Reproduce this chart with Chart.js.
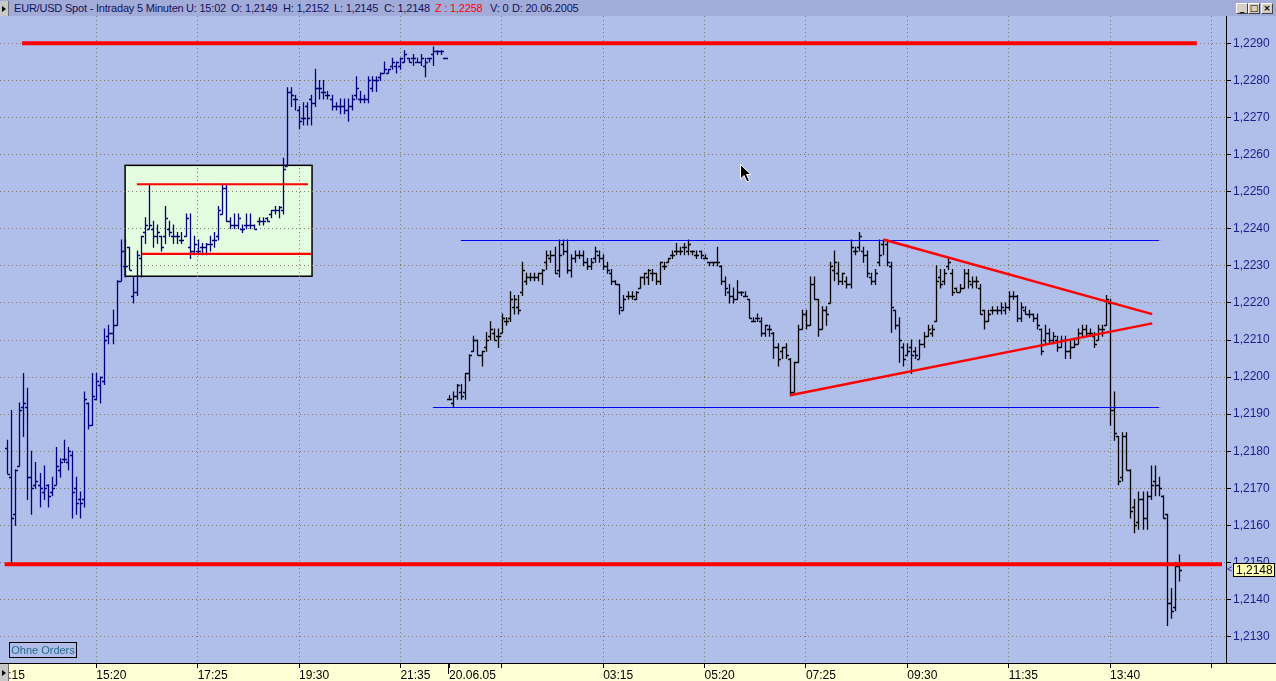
<!DOCTYPE html>
<html>
<head>
<meta charset="utf-8">
<title>EUR/USD Spot - Intraday 5 Minuten</title>
<script src="https://cdn.jsdelivr.net/npm/chart.js@4.4.0/dist/chart.umd.min.js"></script>
<style>
  html, body { margin: 0; padding: 0; background: #B0BEEA; overflow: hidden; }
  #wrap { position: relative; width: 1276px; height: 681px; }
  #chart { position: absolute; left: 0; top: 0; }
  #head { position: absolute; left: 0; top: 0; width: 1276px; height: 16px; background: #A2ACD9;
          font: 11px "Liberation Sans", Arial, sans-serif; color: #12125C; letter-spacing: -0.2px; }
  #head span { position: absolute; top: 2px; white-space: nowrap; }
  .btn { position: absolute; width: 8px; background: #C8C8C8; border-right: 1px solid #707070; }
  .btn:after { content: ""; position: absolute; left: 2px; top: 50%; margin-top: -3px;
               border-left: 4px solid #000; border-top: 3px solid transparent; border-bottom: 3px solid transparent; }
  .win { position: absolute; top: 3px; width: 10px; height: 9px; background: #D4D0C8;
         border: 1px solid; border-color: #fff #404040 #404040 #fff;
         font: bold 9px "DejaVu Sans", sans-serif; line-height: 9px; text-align: center; color: #000; }
  #orders { position: absolute; left: 9px; top: 642px; width: 66px; height: 14px; border: 1px solid #000;
            font: 11px "Liberation Sans", Arial, sans-serif; color: #2A6A8C; line-height: 14px; text-align: center; }
  #cursor { position: absolute; left: 740px; top: 164px; }
</style>
</head>
<body>
<div id="wrap">
  <canvas id="chart" width="1276" height="681"></canvas>
  <div id="head">
    <span style="left:14px">EUR/USD Spot - Intraday 5 Minuten</span>
    <span style="left:186px">U: 15:02</span>
    <span style="left:231px">O: 1,2149</span>
    <span style="left:283px">H: 1,2152</span>
    <span style="left:334px">L: 1,2145</span>
    <span style="left:384px">C: 1,2148</span>
    <span style="left:435px;color:#FF0000">Z : 1,2258</span>
    <span style="left:490px">V: 0</span>
    <span style="left:512px">D: 20.06.2005</span>
  </div>
  <div class="btn" style="left:0;top:1px;height:15px"></div>
  <div class="btn" style="left:0;top:664px;height:17px"></div>
  <div class="win" style="left:1236px">_</div>
  <div class="win" style="left:1248px">&#9633;</div>
  <div class="win" style="left:1261px">&#215;</div>
  <div id="orders">Ohne Orders</div>
  <svg id="cursor" width="14" height="20"><polygon points="0.5,0.5 0.5,15 4,11.5 7,18 9.5,17 6.5,10.5 11,10.5" fill="#000" stroke="#fff" stroke-width="1"/></svg>
</div>
<script>
// Freitag 17.06.2005, 5-Minuten-Bars ab 13:30 (Slot 0 .. 108)
var fridayOpen = [
  1.2181,1.2173,1.2163,1.2176,1.2192,1.2192,1.2173,1.2171,1.2171,1.2169,
  1.2171,1.2169,1.2171,1.2175,1.2178,1.2177,1.2179,1.2170,1.2167,1.2167,
  1.2193,1.2187,1.2194,1.2198,1.2199,1.2211,1.2212,1.2214,1.2226,1.2230,
  1.2235,1.2222,1.2223,1.2232,1.2239,1.2240,1.2240,1.2238,1.2238,1.2238,
  1.2240,1.2238,1.2238,1.2237,1.2238,1.2235,1.2234,1.2234,1.2235,1.2235,
  1.2236,1.2237,1.2238,1.2244,1.2251,1.2242,1.2241,1.2241,1.2240,1.2241,
  1.2241,1.2241,1.2242,1.2242,1.2243,1.2244,1.2245,1.2245,1.2245,1.2257,
  1.2277,1.2275,1.2272,1.2270,1.2273,1.2275,1.2274,1.2278,1.2277,1.2276,
  1.2275,1.2273,1.2273,1.2273,1.2272,1.2273,1.2276,1.2275,1.2275,1.2275,
  1.2278,1.2280,1.2281,1.2282,1.2282,1.2284,1.2284,1.2284,1.2285,1.2286,
  1.2286,1.2285,1.2285,1.2284,1.2286,1.2287,1.2288,1.2288,1.2286
];
var fridayHigh = [
  1.2183,1.2191,1.2175,1.2193,1.2201,1.2197,1.2180,1.2177,1.2174,1.2176,
  1.2171,1.2173,1.2181,1.2178,1.2183,1.2181,1.2180,1.2173,1.2169,1.2196,
  1.2193,1.2201,1.2201,1.2200,1.2213,1.2214,1.2218,1.2226,1.2237,1.2237,
  1.2235,1.2227,1.2234,1.2238,1.2243,1.2252,1.2242,1.2241,1.2238,1.2246,
  1.2242,1.2241,1.2239,1.2239,1.2244,1.2244,1.2238,1.2237,1.2236,1.2236,
  1.2238,1.2239,1.2246,1.2252,1.2252,1.2243,1.2244,1.2244,1.2241,1.2244,
  1.2244,1.2241,1.2243,1.2243,1.2243,1.2245,1.2246,1.2246,1.2259,1.2278,
  1.2278,1.2276,1.2273,1.2274,1.2274,1.2276,1.2283,1.2280,1.2280,1.2277,
  1.2276,1.2274,1.2275,1.2275,1.2275,1.2276,1.2281,1.2277,1.2276,1.2281,
  1.2281,1.2281,1.2282,1.2285,1.2283,1.2286,1.2285,1.2286,1.2288,1.2286,
  1.2287,1.2286,1.2287,1.2286,1.2286,1.2289,1.2288,1.2288,1.2286
];
var fridayLow = [
  1.2174,1.2150,1.2160,1.2176,1.2184,1.2167,1.2163,1.2170,1.2165,1.2167,
  1.2165,1.2168,1.2171,1.2173,1.2177,1.2175,1.2162,1.2163,1.2162,1.2165,
  1.2186,1.2187,1.2194,1.2193,1.2198,1.2209,1.2209,1.2214,1.2226,1.2227,
  1.2229,1.2220,1.2222,1.2227,1.2236,1.2240,1.2235,1.2236,1.2234,1.2236,
  1.2238,1.2236,1.2236,1.2236,1.2238,1.2232,1.2233,1.2233,1.2233,1.2233,
  1.2234,1.2235,1.2237,1.2244,1.2242,1.2240,1.2240,1.2240,1.2239,1.2240,
  1.2240,1.2240,1.2241,1.2241,1.2242,1.2243,1.2244,1.2243,1.2244,1.2257,
  1.2273,1.2272,1.2267,1.2268,1.2268,1.2268,1.2273,1.2275,1.2275,1.2275,
  1.2272,1.2272,1.2271,1.2271,1.2269,1.2272,1.2275,1.2274,1.2274,1.2274,
  1.2277,1.2277,1.2280,1.2282,1.2282,1.2283,1.2282,1.2283,1.2285,1.2285,
  1.2284,1.2285,1.2284,1.2281,1.2285,1.2284,1.2287,1.2287,1.2286
];
var fridayClose = [
  1.2174,1.2162,1.2175,1.2191,1.2193,1.2173,1.2170,1.2172,1.2170,1.2170,
  1.2168,1.2170,1.2176,1.2177,1.2178,1.2180,1.2169,1.2166,1.2166,1.2194,
  1.2187,1.2195,1.2199,1.2200,1.2210,1.2212,1.2214,1.2226,1.2234,1.2230,
  1.2229,1.2223,1.2233,1.2238,1.2241,1.2241,1.2238,1.2239,1.2235,1.2243,
  1.2239,1.2238,1.2238,1.2237,1.2243,1.2234,1.2236,1.2234,1.2235,1.2236,
  1.2236,1.2237,1.2245,1.2251,1.2242,1.2241,1.2241,1.2243,1.2240,1.2241,
  1.2241,1.2240,1.2242,1.2242,1.2242,1.2245,1.2245,1.2246,1.2256,1.2277,
  1.2276,1.2275,1.2269,1.2270,1.2270,1.2274,1.2278,1.2278,1.2277,1.2276,
  1.2273,1.2273,1.2273,1.2272,1.2273,1.2275,1.2278,1.2275,1.2275,1.2280,
  1.2280,1.2280,1.2282,1.2283,1.2283,1.2285,1.2285,1.2286,1.2287,1.2285,
  1.2286,1.2285,1.2286,1.2285,1.2286,1.2288,1.2288,1.2288,1.2286
];

// Montag 20.06.2005, 5-Minuten-Bars ab 00:05 (Slot 109 .. 289)
var mondayOpen = [
  1.2194,1.2193,1.2195,1.2196,1.2196,1.2201,1.2207,1.2210,1.2206,1.2208,
  1.2211,1.2212,1.2211,1.2212,1.2215,1.2216,1.2219,1.2219,1.2223,1.2226,
  1.2227,1.2227,1.2227,1.2228,1.2231,1.2232,1.2233,1.2229,1.2236,1.2234,
  1.2229,1.2232,1.2233,1.2233,1.2231,1.2230,1.2232,1.2233,1.2232,1.2230,
  1.2228,1.2226,1.2225,1.2218,1.2222,1.2222,1.2221,1.2224,1.2227,1.2227,
  1.2228,1.2228,1.2226,1.2230,1.2231,1.2233,1.2234,1.2234,1.2235,1.2234,
  1.2234,1.2233,1.2234,1.2232,1.2231,1.2231,1.2231,1.2230,1.2226,1.2223,
  1.2222,1.2221,1.2223,1.2222,1.2221,1.2215,1.2216,1.2215,1.2212,1.2213,
  1.2212,1.2208,1.2207,1.2208,1.2205,1.2196,1.2204,1.2213,1.2217,1.2214,
  1.2225,1.2221,1.2213,1.2218,1.2220,1.2229,1.2228,1.2226,1.2226,1.2225,
  1.2234,1.2235,1.2234,1.2233,1.2227,1.2226,1.2231,1.2236,1.2236,1.2230,
  1.2218,1.2214,1.2208,1.2206,1.2208,1.2207,1.2205,1.2209,1.2211,1.2212,
  1.2215,1.2227,1.2226,1.2230,1.2228,1.2224,1.2223,1.2224,1.2228,1.2225,
  1.2226,1.2224,1.2218,1.2215,1.2218,1.2218,1.2218,1.2218,1.2219,1.2222,
  1.2222,1.2216,1.2218,1.2217,1.2217,1.2216,1.2213,1.2210,1.2212,1.2210,
  1.2210,1.2208,1.2210,1.2207,1.2208,1.2209,1.2212,1.2213,1.2212,1.2211,
  1.2210,1.2213,1.2214,1.2220,1.2191,1.2184,1.2173,1.2184,1.2175,1.2165,
  1.2161,1.2167,1.2162,1.2168,1.2172,1.2171,1.2168,1.2163,1.2139,1.2138,
  1.2149
];
var mondayHigh = [
  1.2195,1.2196,1.2198,1.2198,1.2201,1.2206,1.2211,1.2210,1.2207,1.2212,
  1.2215,1.2213,1.2213,1.2217,1.2216,1.2223,1.2222,1.2222,1.2231,1.2228,
  1.2228,1.2228,1.2228,1.2229,1.2234,1.2234,1.2235,1.2237,1.2237,1.2237,
  1.2233,1.2234,1.2234,1.2234,1.2232,1.2232,1.2235,1.2234,1.2233,1.2231,
  1.2229,1.2226,1.2225,1.2222,1.2223,1.2223,1.2223,1.2227,1.2228,1.2229,
  1.2229,1.2228,1.2231,1.2231,1.2232,1.2234,1.2236,1.2235,1.2236,1.2237,
  1.2234,1.2234,1.2234,1.2233,1.2231,1.2231,1.2235,1.2230,1.2227,1.2225,
  1.2224,1.2226,1.2223,1.2223,1.2221,1.2216,1.2217,1.2216,1.2214,1.2214,
  1.2212,1.2209,1.2208,1.2209,1.2205,1.2204,1.2214,1.2218,1.2218,1.2227,
  1.2227,1.2221,1.2219,1.2219,1.2231,1.2234,1.2231,1.2228,1.2227,1.2237,
  1.2235,1.2239,1.2235,1.2234,1.2228,1.2229,1.2237,1.2237,1.2237,1.2231,
  1.2218,1.2216,1.2209,1.2209,1.2210,1.2208,1.2210,1.2212,1.2214,1.2214,
  1.2230,1.2229,1.2229,1.2232,1.2229,1.2224,1.2225,1.2229,1.2229,1.2227,
  1.2227,1.2225,1.2218,1.2218,1.2219,1.2219,1.2220,1.2220,1.2223,1.2223,
  1.2222,1.2220,1.2219,1.2218,1.2217,1.2217,1.2213,1.2214,1.2213,1.2212,
  1.2211,1.2211,1.2211,1.2210,1.2210,1.2213,1.2214,1.2214,1.2213,1.2212,
  1.2214,1.2214,1.2222,1.2221,1.2196,1.2184,1.2185,1.2185,1.2175,1.2167,
  1.2169,1.2169,1.2169,1.2176,1.2176,1.2173,1.2168,1.2163,1.2143,1.2150,
  1.2152
];
var mondayLow = [
  1.2194,1.2192,1.2194,1.2194,1.2194,1.2199,1.2207,1.2206,1.2203,1.2207,
  1.2210,1.2210,1.2208,1.2212,1.2214,1.2215,1.2217,1.2217,1.2222,1.2225,
  1.2226,1.2226,1.2226,1.2225,1.2229,1.2231,1.2228,1.2227,1.2233,1.2228,
  1.2227,1.2231,1.2232,1.2230,1.2229,1.2229,1.2231,1.2231,1.2229,1.2228,
  1.2225,1.2225,1.2217,1.2218,1.2221,1.2221,1.2221,1.2224,1.2225,1.2225,
  1.2226,1.2225,1.2225,1.2229,1.2231,1.2232,1.2233,1.2233,1.2233,1.2233,
  1.2233,1.2232,1.2232,1.2232,1.2230,1.2230,1.2230,1.2225,1.2222,1.2220,
  1.2220,1.2221,1.2222,1.2222,1.2216,1.2215,1.2215,1.2211,1.2211,1.2211,
  1.2205,1.2203,1.2205,1.2205,1.2195,1.2196,1.2204,1.2213,1.2213,1.2214,
  1.2221,1.2211,1.2213,1.2214,1.2220,1.2226,1.2225,1.2225,1.2224,1.2224,
  1.2233,1.2234,1.2231,1.2227,1.2225,1.2225,1.2230,1.2233,1.2230,1.2212,
  1.2213,1.2204,1.2203,1.2206,1.2201,1.2205,1.2205,1.2208,1.2211,1.2211,
  1.2215,1.2224,1.2225,1.2229,1.2222,1.2223,1.2223,1.2224,1.2224,1.2224,
  1.2224,1.2217,1.2213,1.2215,1.2217,1.2217,1.2217,1.2217,1.2218,1.2221,
  1.2215,1.2215,1.2217,1.2216,1.2215,1.2213,1.2206,1.2209,1.2209,1.2209,
  1.2207,1.2208,1.2205,1.2205,1.2208,1.2209,1.2211,1.2211,1.2211,1.2208,
  1.2210,1.2211,1.2214,1.2187,1.2183,1.2171,1.2172,1.2175,1.2162,1.2158,
  1.2159,1.2159,1.2159,1.2167,1.2168,1.2168,1.2162,1.2133,1.2135,1.2137,
  1.2145
];
var mondayClose = [
  1.2194,1.2195,1.2198,1.2195,1.2201,1.2206,1.2210,1.2206,1.2207,1.2210,
  1.2213,1.2210,1.2211,1.2216,1.2215,1.2221,1.2221,1.2218,1.2229,1.2227,
  1.2227,1.2227,1.2228,1.2229,1.2233,1.2233,1.2228,1.2233,1.2234,1.2229,
  1.2232,1.2233,1.2233,1.2231,1.2230,1.2231,1.2234,1.2232,1.2230,1.2229,
  1.2226,1.2225,1.2219,1.2221,1.2222,1.2222,1.2223,1.2227,1.2228,1.2229,
  1.2228,1.2226,1.2231,1.2230,1.2232,1.2233,1.2234,1.2234,1.2235,1.2236,
  1.2234,1.2233,1.2233,1.2232,1.2231,1.2231,1.2231,1.2226,1.2224,1.2222,
  1.2221,1.2223,1.2223,1.2222,1.2216,1.2215,1.2216,1.2212,1.2214,1.2213,
  1.2208,1.2205,1.2208,1.2206,1.2196,1.2204,1.2213,1.2217,1.2214,1.2225,
  1.2221,1.2213,1.2218,1.2217,1.2230,1.2231,1.2226,1.2228,1.2225,1.2235,
  1.2234,1.2238,1.2233,1.2228,1.2226,1.2228,1.2233,1.2237,1.2231,1.2219,
  1.2214,1.2210,1.2205,1.2207,1.2206,1.2206,1.2209,1.2211,1.2213,1.2213,
  1.2226,1.2225,1.2228,1.2231,1.2223,1.2223,1.2224,1.2228,1.2226,1.2226,
  1.2226,1.2217,1.2215,1.2217,1.2218,1.2218,1.2219,1.2219,1.2222,1.2222,
  1.2216,1.2219,1.2217,1.2217,1.2216,1.2214,1.2207,1.2212,1.2210,1.2211,
  1.2208,1.2210,1.2207,1.2208,1.2209,1.2212,1.2213,1.2212,1.2212,1.2209,
  1.2213,1.2213,1.2221,1.2191,1.2185,1.2172,1.2184,1.2175,1.2164,1.2160,
  1.2167,1.2162,1.2168,1.2171,1.2171,1.2170,1.2162,1.2139,1.2137,1.2149,
  1.2148
];
var mondayStart = 109;
var lastPrice = 1.2148;

// Achsen
var xTickSlots  = [-3, 22, 47, 72, 97, 109, 122, 147, 172, 197, 222, 247, 272, 297];
var xTickLabels = ['13:15', '15:20', '17:25', '19:30', '21:35', '20.06.05', '', '03:15', '05:20', '07:25', '09:30', '11:35', '13:40', ''];
var yTickValues = [1.2130, 1.2140, 1.2150, 1.2160, 1.2170, 1.2180, 1.2190, 1.2200, 1.2210,
                   1.2220, 1.2230, 1.2240, 1.2250, 1.2260, 1.2270, 1.2280, 1.2290];

// Zeichenwerkzeuge: [Slot von, Slot bis, Kurs]
var levelLines = [[3.7, 293.4, 1.2290], [-0.6, 299.6, 1.21495]];
var rangeLines = [[105.0, 284.1, 1.2192], [111.9, 284.1, 1.22371]];
var boxRange   = [29.1, 75.2, 1.22272, 1.22571];
var boxLines   = [[32.0, 74.2, 1.22520], [33.3, 75.2, 1.22332]];
// Dreieck: [Slot1, Kurs1, Slot2, Kurs2]
var triangleLines = [[193.1, 1.21951, 282.4, 1.22145], [216.1, 1.22371, 282.4, 1.22170]];

Chart.defaults.font.family = '"Liberation Sans", Arial, sans-serif';

function px(chart, s) { return chart.scales.x.getPixelForValue(s); }
function py(chart, v) { return chart.scales.y.getPixelForValue(v); }

//OHLC-Bars zeichnen
function drawBars(chart, first, o, h, l, c, color) {
  var ctx = chart.ctx;
  ctx.strokeStyle = color;
  ctx.lineWidth = 1.3;
  ctx.beginPath();
  for (var i = 0; i < h.length; i++) {
    var x = Math.round(px(chart, first + i)) + 0.5;
    var yh = py(chart, h[i]), yl = py(chart, l[i]);
    var yo = Math.round(py(chart, o[i])) + 0.5, yc = Math.round(py(chart, c[i])) + 0.5;
    ctx.moveTo(x, yh - 0.5);
    ctx.lineTo(x, yl + 0.5);
    ctx.moveTo(x - 2.5, yo);
    ctx.lineTo(x, yo);
    ctx.moveTo(x, yc);
    ctx.lineTo(x + 2.5, yc);
  }
  ctx.stroke();
}

function seg(ctx, x1, y1, x2, y2) {
  ctx.beginPath();
  ctx.moveTo(x1, y1);
  ctx.lineTo(x2, y2);
  ctx.stroke();
}

var chartDecor = {
  id: 'chartDecor',
  beforeDraw: function(chart) {
    var ctx = chart.ctx, a = chart.chartArea;
    ctx.save();
    ctx.fillStyle = '#B0BEEA';
    ctx.fillRect(0, 0, chart.width, chart.height);
    ctx.fillStyle = '#FFFFD6';
    ctx.fillRect(0, a.bottom, chart.width, chart.height - a.bottom);
    //Box
    var x1 = px(chart, boxRange[0]), x2 = px(chart, boxRange[1]);
    var y1 = py(chart, boxRange[3]), y2 = py(chart, boxRange[2]);
    ctx.fillStyle = '#E4FCE0';
    ctx.fillRect(x1, y1, x2 - x1, y2 - y1);
    ctx.strokeStyle = '#000';
    ctx.lineWidth = 1.5;
    ctx.strokeRect(x1, y1, x2 - x1, y2 - y1);
    ctx.restore();
  },
  afterDatasetsDraw: function(chart) {
    var ctx = chart.ctx;
    ctx.save();
    drawBars(chart, 0, fridayOpen, fridayHigh, fridayLow, fridayClose, '#00007F');
    drawBars(chart, mondayStart, mondayOpen, mondayHigh, mondayLow, mondayClose, '#000000');

    ctx.lineCap = 'butt';
    ctx.strokeStyle = '#0000F5';
    ctx.lineWidth = 1;
    rangeLines.forEach(function(r) {
      var y = Math.round(py(chart, r[2])) + 0.5;
      seg(ctx, px(chart, r[0]), y, px(chart, r[1]), y);
    });
    ctx.strokeStyle = '#FF0000';
    ctx.lineWidth = 4;
    levelLines.forEach(function(r) {
      seg(ctx, px(chart, r[0]), py(chart, r[2]), px(chart, r[1]), py(chart, r[2]));
    });
    ctx.lineWidth = 2.2;
    boxLines.forEach(function(r) {
      seg(ctx, px(chart, r[0]), py(chart, r[2]), px(chart, r[1]), py(chart, r[2]));
    });
    ctx.lineWidth = 2.4;
    triangleLines.forEach(function(t) {
      seg(ctx, px(chart, t[0]), py(chart, t[1]), px(chart, t[2]), py(chart, t[3]));
    });
    ctx.restore();
  },
  afterDraw: function(chart) {
    var ctx = chart.ctx, a = chart.chartArea;
    ctx.save();
    ctx.strokeStyle = '#000';
    ctx.lineWidth = 1;
    seg(ctx, 0, Math.round(a.bottom) + 0.5, chart.width, Math.round(a.bottom) + 0.5);
    //Tagestrenner
    var xs = Math.round(px(chart, mondayStart)) - 0.5;
    seg(ctx, xs, a.bottom, xs, a.bottom + 11);
    //aktueller Kurs
    var yl = Math.round(py(chart, lastPrice));
    ctx.fillStyle = '#FFFFB4';
    ctx.fillRect(1233.5, yl - 6.5, 41, 13);
    ctx.strokeRect(1233.5, yl - 6.5, 41, 13);
    ctx.fillStyle = '#000';
    ctx.font = '12px "Liberation Sans", Arial, sans-serif';
    ctx.textBaseline = 'middle';
    ctx.textAlign = 'left';
    ctx.fillText(lastPrice.toFixed(4).replace('.', ','), 1236, yl + 0.5);
    ctx.fillStyle = '#1C1C8C';
    ctx.font = '9px "Liberation Sans", Arial, sans-serif';
    ctx.fillText('<', 1227, yl);
    ctx.restore();
  }
};

var ctx = document.getElementById('chart');
var chart = new Chart(ctx, {
  type: 'line',
  data: {
    datasets: [{
      data: fridayClose.map(function(c, i) { return {x: i, y: c}; })
        .concat(mondayClose.map(function(c, i) { return {x: mondayStart + i, y: c}; })),
      showLine: false,
      pointRadius: 0,
      borderColor: 'rgba(0,0,0,0)',
    }],
  },
  options: {
    responsive: false,
    animation: false,
    events: [],
    layout: {
      padding: {top: 16, left: 0, right: 0, bottom: 0}
    },
    plugins: {
      legend: { display: false },
      tooltip: { enabled: false },
    },
    scales: {
      x: {
        type: 'linear',
        min: -1.751,
        max: 300.59,
        afterBuildTicks: function(scale) {
          scale.ticks = xTickSlots.map(function(v) { return {value: v}; });
        },
        afterFit: function(scale) {
          scale.height = 18;
          scale.paddingLeft = 0;
          scale.paddingRight = 0;
        },
        ticks: {
          autoSkip: false,
          minRotation: 0,
          maxRotation: 0,
          align: 'start',
          padding: 0,
          color: '#000',
          font: { size: 12 },
          callback: function(v, i) { return xTickLabels[i]; }
        },
        grid: {
          color: function(c) { return c.index === 5 ? 'rgba(0,0,0,0)' : '#7D7A6A'; },
          tickColor: '#000',
          tickLength: 5,
          lineWidth: 1,
        },
        border: { color: '#000', width: 1, dash: [1, 3] }
      },
      y: {
        position: 'right',
        min: 1.212290,
        max: 1.2297373,
        afterBuildTicks: function(scale) {
          scale.ticks = yTickValues.map(function(v) { return {value: v}; });
        },
        afterFit: function(scale) {
          scale.width = 50;
          scale.paddingTop = 0;
          scale.paddingBottom = 0;
        },
        ticks: {
          padding: 2,
          color: '#1C1C8C',
          font: { size: 12 },
          callback: function(v) { return v.toFixed(4).replace('.', ','); }
        },
        grid: {
          color: '#7D7A6A',
          tickColor: '#000',
          tickLength: 5,
          lineWidth: 1,
        },
        border: { color: '#000', width: 1, dash: [1, 3] }
      },
    },
  },
  plugins: [chartDecor]
});
</script>
</body>
</html>
